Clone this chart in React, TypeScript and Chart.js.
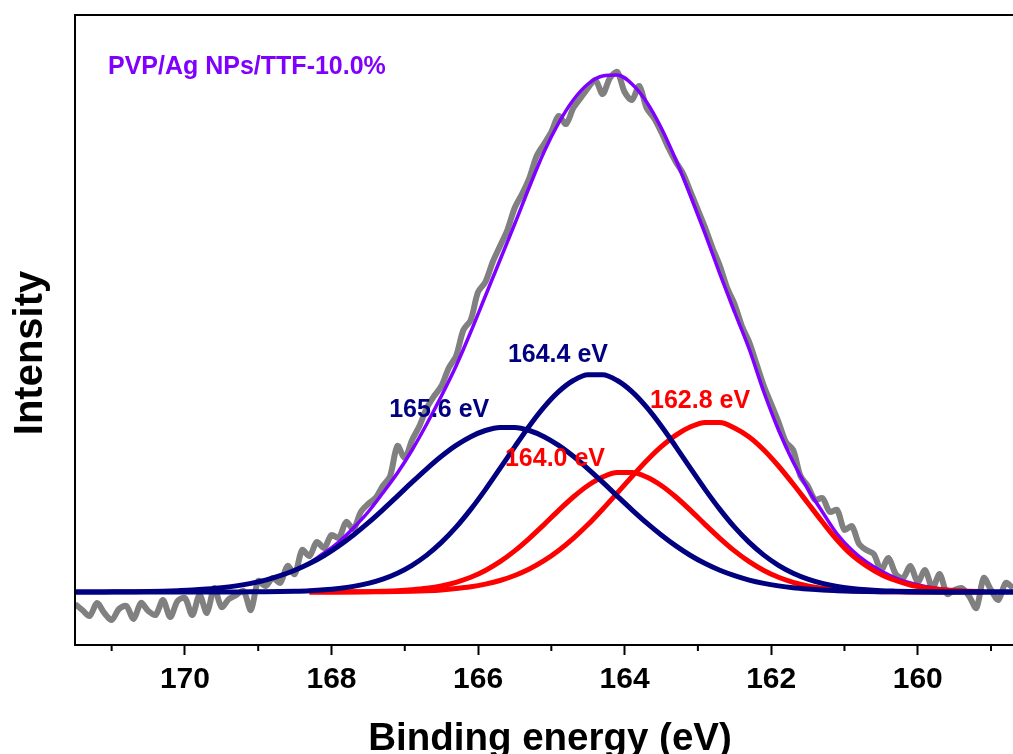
import React, { useEffect, useRef } from "react";
import { Chart, registerables } from "chart.js";

Chart.register(...registerables);

// Binding energies of the fitted curves (eV)
const fitEnergy = [
  171.5, 171.3, 171.1, 170.9, 170.7, 170.5, 170.3, 170.1, 169.9, 169.7,
  169.5, 169.3, 169.1, 168.9, 168.7, 168.5, 168.3, 168.1, 167.9, 167.7,
  167.5, 167.3, 167.1, 166.9, 166.7, 166.5, 166.3, 166.1, 165.9, 165.7,
  165.5, 165.3, 165.1, 164.9, 164.7, 164.5, 164.3, 164.1, 163.9, 163.7,
  163.5, 163.3, 163.1, 162.9, 162.7, 162.5, 162.3, 162.1, 161.9, 161.7,
  161.5, 161.3, 161.1, 160.9, 160.7, 160.5, 160.3, 160.1, 159.9, 159.7,
  159.5, 159.3, 159.1, 158.9, 158.7,
];

// Component 165.6 eV (navy)
const peak1656 = [
  0, 0.1, 0.1, 0.2, 0.3, 0.5, 0.8, 1.3, 1.9, 2.9,
  4.2, 6.1, 8.6, 11.9, 16.3, 21.7, 28.4, 36.5, 46.1, 57.0,
  69.1, 82.2, 95.9, 109.8, 123.2, 135.7, 146.6, 155.3, 161.5, 164.6,
  164.6, 161.5, 155.3, 146.6, 135.7, 123.2, 109.8, 95.9, 82.2, 69.1,
  57.0, 46.1, 36.5, 28.4, 21.7, 16.3, 11.9, 8.6, 6.1, 4.2,
  2.9, 1.9, 1.3, 0.8, 0.5, 0.3, 0.2, 0.1, 0.1, 0,
  0, 0, 0, 0, 0,
];

// Component 164.4 eV (navy)
const peak1644 = [
  0, 0, 0, 0, 0, 0, 0, 0, 0, 0,
  0.04, 0.07, 0.13, 0.24, 0.44, 0.77, 1.3, 2.2, 3.6, 5.6,
  8.6, 12.9, 18.8, 26.7, 36.9, 49.6, 64.8, 82.6, 102.4, 123.6,
  145.2, 166.1, 184.9, 200.4, 211.5, 217.3, 217.3, 211.5, 200.4, 184.9,
  166.1, 145.2, 123.6, 102.4, 82.6, 64.8, 49.6, 36.9, 26.7, 18.8,
  12.9, 8.6, 5.6, 3.6, 2.2, 1.3, 0.8, 0.4, 0.2, 0.1,
  0.1, 0, 0, 0, 0,
];

// Component 164.0 eV (red)
const peak1640 = [
  null, null, null, null, null, null, null, null, null, null,
  null, null, null, null, null, null, 0, 0.04, 0.09, 0.18,
  0.35, 0.7, 1.2, 2.2, 3.7, 6.1, 9.7, 14.7, 21.5, 30.3,
  41.1, 53.7, 67.4, 81.6, 95.0, 106.5, 115.0, 119.4, 119.4, 115.0,
  106.5, 95.0, 81.6, 67.4, 53.7, 41.1, 30.3, 21.5, 14.7, 9.7,
  6.1, 3.7, 2.2, 1.2, 0.7, 0.35, 0.18, 0.09, 0.04, 0.02,
  0, 0, 0, null, null,
];

// Component 162.8 eV (red)
const peak1628 = [
  null, null, null, null, null, null, null, null, null, null,
  null, null, null, null, null, null, 0, 0.02, 0.04, 0.08,
  0.14, 0.26, 0.46, 0.78, 1.3, 2.1, 3.4, 5.2, 7.9, 11.5,
  16.5, 23.0, 31.3, 41.5, 53.6, 67.4, 82.8, 99.0, 115.4, 131.2,
  145.3, 156.9, 165.2, 169.5, 169.5, 164, 155, 142, 126, 108,
  89, 70, 52, 37, 26, 17.5, 11.5, 7, 4.3, 2.5,
  1.4, 0.8, 0.4, null, null,
];

// Fitted envelope (purple)
const envelope = [
  null, null, null, null, null, null, null, null, null, null,
  null, null, null, null, null, null, 29, 39, 50, 64,
  80, 99, 119, 142, 168, 196, 226, 260, 296, 332,
  368, 405, 440, 469, 492, 508, 516, 517, 508, 490,
  464, 432, 396, 358, 318, 280, 243, 200, 162, 130,
  103, 80, 58, 42, 30, 21, 14, 9, 5.5, 3.3,
  2, 1.1, 0.6, null, null,
];

// Measured spectrum (grey)
const rawEnergy = [
  171.5, 171.4, 171.3, 171.2, 171.1, 171.0, 170.9, 170.8, 170.7, 170.6,
  170.5, 170.4, 170.3, 170.2, 170.1, 170.0, 169.9, 169.8, 169.7, 169.6,
  169.5, 169.4, 169.3, 169.2, 169.1, 169.0, 168.9, 168.8, 168.7, 168.6,
  168.5, 168.4, 168.3, 168.2, 168.1, 168.0, 167.9, 167.8, 167.7, 167.6,
  167.5, 167.4, 167.3, 167.2, 167.1, 167.0, 166.9, 166.8, 166.7, 166.6,
  166.5, 166.4, 166.3, 166.2, 166.1, 166.0, 165.9, 165.8, 165.7, 165.6,
  165.5, 165.4, 165.3, 165.2, 165.1, 165.0, 164.9, 164.8, 164.7, 164.6,
  164.5, 164.4, 164.3, 164.2, 164.1, 164.0, 163.9, 163.8, 163.7, 163.6,
  163.5, 163.4, 163.3, 163.2, 163.1, 163.0, 162.9, 162.8, 162.7, 162.6,
  162.5, 162.4, 162.3, 162.2, 162.1, 162.0, 161.9, 161.8, 161.7, 161.6,
  161.5, 161.4, 161.3, 161.2, 161.1, 161.0, 160.9, 160.8, 160.7, 160.6,
  160.5, 160.4, 160.3, 160.2, 160.1, 160.0, 159.9, 159.8, 159.7, 159.6,
  159.5, 159.4, 159.3, 159.2, 159.1, 159.0, 158.9, 158.8, 158.7,
];
const rawCounts = [
  -12, -18, -24, -11, -21, -28, -17, -14, -27, -11,
  -19, -23, -8, -25, -9, -6, -23, -3, -21, 4,
  -15, -7, -3, 1, -18, 11, 6, 14, 9, 26,
  18, 42, 36, 50, 44, 57, 54, 70, 63, 80,
  88, 94, 106, 116, 146, 134, 152, 166, 184, 196,
  206, 224, 236, 262, 272, 300, 310, 330, 346, 362,
  384, 398, 414, 436, 448, 460, 476, 468, 484, 494,
  504, 512, 498, 514, 520, 500, 492, 506, 484, 474,
  460, 444, 430, 418, 400, 382, 364, 344, 326, 304,
  288, 266, 250, 228, 206, 188, 170, 150, 142, 116,
  106, 92, 94, 80, 82, 62, 66, 48, 42, 38,
  22, 34, 18, 14, 26, 10, 22, 4, 18, -2,
  2, 4, -4, -16, 14, 2, -8, 9, 4,
];

const majorTicks = [160, 162, 164, 166, 168, 170];
const minorTicks = [159, 161, 163, 165, 167, 169, 171];

const peakLabels = [
  { text: "165.6 eV", x: 166.53, y: 175, color: "#000080" },
  { text: "164.4 eV", x: 164.91, y: 230, color: "#000080" },
  { text: "164.0 eV", x: 164.95, y: 126, color: "#FF0000" },
  { text: "162.8 eV", x: 162.97, y: 184, color: "#FF0000" },
];

const NAVY = "#000080";
const RED = "#FF0000";
const PURPLE = "#8000FF";
const GREY = "#808080";
const FONT = "'Liberation Sans', Arial, sans-serif";

const pts = (xs: number[], ys: (number | null)[]) =>
  xs.map((x, i) => ({ x, y: ys[i] }));

const overlay = {
  id: "overlay",
  afterDraw(chart: any) {
    const { ctx, chartArea, scales } = chart;
    const { left, top, right, bottom } = chartArea;
    const xs = scales.x;
    const ys = scales.y;
    ctx.save();
    ctx.strokeStyle = "#000";
    ctx.lineWidth = 2;
    ctx.beginPath();
    ctx.moveTo(left, bottom + 1);
    ctx.lineTo(left, top);
    ctx.lineTo(right, top);
    for (const v of minorTicks) {
      const px = xs.getPixelForValue(v);
      if (px < left - 1 || px > right + 1) continue;
      ctx.moveTo(px, bottom);
      ctx.lineTo(px, bottom + 6);
    }
    ctx.stroke();

    ctx.textAlign = "center";
    ctx.textBaseline = "alphabetic";
    ctx.font = `bold 25px ${FONT}`;
    for (const l of peakLabels) {
      ctx.fillStyle = l.color;
      ctx.fillText(l.text, xs.getPixelForValue(l.x), ys.getPixelForValue(l.y));
    }

    ctx.textAlign = "left";
    ctx.fillStyle = PURPLE;
    ctx.fillText("PVP/Ag NPs/TTF-10.0%", 108, 74);

    ctx.fillStyle = "#000";
    ctx.textAlign = "center";
    ctx.font = `bold 38.5px ${FONT}`;
    ctx.fillText("Binding energy (eV)", 550, 750);

    ctx.translate(42, 353);
    ctx.rotate(-Math.PI / 2);
    ctx.font = `bold 40px ${FONT}`;
    ctx.fillText("Intensity", 0, 0);
    ctx.restore();
  },
};

export default function App() {
  const ref = useRef<HTMLCanvasElement>(null);
  useEffect(() => {
    const canvas = ref.current as HTMLCanvasElement;
    const line = (label: string, data: any, color: string, width: number, extra: any = {}) => ({
      label,
      data,
      borderColor: color,
      backgroundColor: color,
      borderWidth: width,
      pointRadius: 0,
      fill: false,
      spanGaps: false,
      cubicInterpolationMode: "monotone",
      ...extra,
    });
    const chart = new Chart(canvas, {
      type: "line",
      data: {
        datasets: [
          line("165.6 eV", pts(fitEnergy, peak1656), NAVY, 5),
          line("164.4 eV", pts(fitEnergy, peak1644), NAVY, 5),
          line("164.0 eV", pts(fitEnergy, peak1640), RED, 5),
          line("162.8 eV", pts(fitEnergy, peak1628), RED, 5),
          line("Envelope", pts(fitEnergy, envelope), PURPLE, 3.5),
          line("Raw", pts(rawEnergy, rawCounts), GREY, 6, {
            cubicInterpolationMode: "default",
            tension: 0.3,
          }),
        ],
      },
      options: {
        responsive: false,
        animation: false,
        devicePixelRatio: 1,
        events: [],
        layout: { padding: { left: 75, top: 15, right: 0, bottom: 0 } },
        plugins: { legend: { display: false }, tooltip: { enabled: false } },
        scales: {
          x: {
            type: "linear",
            reverse: true,
            min: 158.7,
            max: 171.5,
            afterBuildTicks: (s: any) => {
              s.ticks = majorTicks.map((v) => ({ value: v }));
            },
            afterFit: (s: any) => {
              s.height = 109;
            },
            ticks: {
              font: { family: FONT, size: 30, weight: "bold" },
              color: "#000",
              padding: 7,
              maxRotation: 0,
              autoSkip: false,
              callback: (v: any) => String(v),
            },
            grid: {
              display: true,
              drawOnChartArea: false,
              drawTicks: true,
              tickLength: 10,
              tickWidth: 2,
              tickColor: "#000",
            },
            border: { display: true, color: "#000", width: 2 },
          },
          y: { type: "linear", display: false, min: -53, max: 577 },
        },
      } as any,
      plugins: [overlay],
    });
    return () => chart.destroy();
  }, []);
  return (
    <div style={{ position: "absolute", left: 0, top: 0, background: "#fff" }}>
      <canvas ref={ref} width={1013} height={754} style={{ display: "block" }} />
    </div>
  );
}
